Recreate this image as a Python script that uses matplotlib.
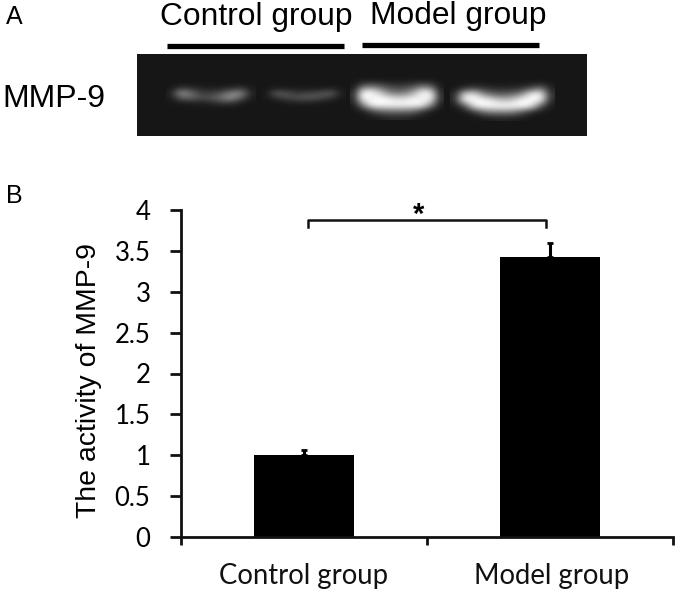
"""Gel image (A) and MMP-9 activity bar chart (B)."""
import numpy as np
import matplotlib
matplotlib.use("Agg")
import matplotlib.pyplot as plt

W, H = 680, 590

groups = ["Control group", "Model group"]
activity = [1.0, 3.42]
errors = [0.06, 0.18]
y_ticks = [0, 0.5, 1, 1.5, 2, 2.5, 3, 3.5, 4]
y_labels = ["0", "0.5", "1", "1.5", "2", "2.5", "3", "3.5", "4"]

# gel band brightness, read by eye, rows top to bottom
band_control_1 = [
    [22, 22, 22, 22, 22, 22, 22, 22, 22],
    [24, 60, 50, 36, 32, 34, 44, 60, 26],
    [28, 150, 110, 62, 62, 80, 130, 140, 30],
    [26, 90, 100, 74, 84, 110, 150, 90, 26],
    [22, 30, 34, 34, 40, 60, 60, 30, 22],
    [22, 22, 22, 22, 22, 22, 22, 22, 22],
]
band_control_2 = [
    [22, 22, 22, 22, 22, 22, 22, 22, 22],
    [22, 36, 34, 30, 28, 30, 32, 40, 24],
    [24, 90, 80, 60, 64, 70, 84, 90, 26],
    [24, 50, 70, 76, 84, 84, 70, 50, 24],
    [22, 24, 30, 36, 40, 36, 28, 24, 22],
    [22, 22, 22, 22, 22, 22, 22, 22, 22],
]
band_model_1 = [
    [22, 22, 22, 22, 22, 22, 22, 22, 22, 22, 22],
    [24, 90, 110, 90, 70, 60, 64, 80, 110, 90, 24],
    [40, 250, 255, 200, 130, 110, 120, 170, 255, 230, 36],
    [40, 255, 240, 255, 240, 220, 225, 245, 235, 255, 40],
    [28, 130, 255, 255, 255, 255, 255, 255, 255, 140, 26],
    [22, 30, 70, 110, 120, 120, 120, 110, 60, 28, 22],
    [22, 22, 24, 30, 36, 38, 36, 28, 24, 22, 22],
]
band_model_2 = [
    [22, 22, 22, 22, 22, 22, 22, 22, 22, 22, 22],
    [22, 40, 60, 46, 40, 38, 40, 44, 70, 110, 30],
    [34, 210, 230, 140, 100, 90, 100, 140, 240, 255, 44],
    [36, 250, 255, 255, 220, 190, 200, 250, 255, 250, 36],
    [24, 70, 230, 255, 255, 255, 255, 255, 240, 90, 24],
    [22, 24, 50, 110, 130, 130, 130, 90, 40, 24, 22],
    [22, 22, 22, 24, 30, 34, 30, 24, 22, 22, 22],
]
bands = [band_control_1, band_control_2, band_model_1, band_model_2]
band_boxes = [(166, 256, 81, 110), (262, 346, 82, 109), (350, 444, 77, 120), (450, 555, 79, 121)]

plt.rcParams["font.family"] = ["Liberation Sans", "DejaVu Sans"]
fig = plt.figure(figsize=(W / 100, H / 100), dpi=100)
fig.patch.set_facecolor("white")

# panel B: axes box in pixels, x 181-673, y 210-537
ax = fig.add_axes([181 / W, 1 - 537 / H, (673 - 181) / W, (537 - 210) / H])
ax.bar(range(2), activity, width=0.407, color="black")
ax.errorbar(range(2), activity, yerr=[[0, 0], errors], fmt="none", ecolor="black",
            elinewidth=2.2, capsize=2, capthick=2)
ax.set_xlim(-0.5, 1.5)
ax.set_ylim(0, 4)
ax.set_yticks(y_ticks, y_labels, fontfamily="Lato", fontsize=18.5)
ax.set_xticks([-0.5, 0.5, 1.5], ["", "", ""])
ax.tick_params(axis="y", width=2, length=8, pad=14, color="#111111")
ax.tick_params(axis="x", width=2, length=6, color="#111111")
ax.set_ylabel("The activity of MMP-9", fontsize=20.4, labelpad=9, y=0.48)
ax.spines[["top", "right"]].set_visible(False)
ax.spines[["left", "bottom"]].set_linewidth(2)
ax.spines[["left", "bottom"]].set_color("#111111")
for i, g in enumerate(groups):
    ax.annotate(g, (i, 0), xytext=(1.5 * i, -19), xycoords=("data", "axes fraction"),
                textcoords="offset points", ha="center", va="top",
                fontfamily="Lato", fontsize=19.8, color="#111111")

# overlay in image pixels for panel A, letters and the bracket
ov = fig.add_axes([0, 0, 1, 1], zorder=5)
ov.set_axis_off()
ov.patch.set_alpha(0)
ov.imshow([[22]], extent=(137, 587, 136, 54), cmap="gray", vmin=0, vmax=255, aspect="auto")
for band, (x0, x1, y0, y1) in zip(bands, band_boxes):
    ov.imshow(np.array(band), extent=(x0, x1, y1, y0), cmap="gray", vmin=0, vmax=255,
              aspect="auto", interpolation="bicubic")
ov.set_xlim(0, W)
ov.set_ylim(H, 0)

ov.text(6, 17, "A", fontsize=18, va="center")
ov.text(6, 196, "B", fontsize=18, va="center")
ov.text(2, 99, "MMP-9", fontsize=23, va="center")
ov.text(256, 17, "Control group", fontsize=22.9, ha="center", va="center")
ov.text(458, 16, "Model group", fontsize=22.9, ha="center", va="center")
ov.plot([167, 344], [45.5, 45.5], color="black", lw=3.8, solid_capstyle="butt")
ov.plot([362, 539], [44.5, 44.5], color="black", lw=3.8, solid_capstyle="butt")

# significance bracket
ov.plot([308, 308, 546, 546], [227, 220, 220, 227], color="#111111", lw=1.8)
ov.text(419, 215, "*", fontsize=21, fontweight="bold", ha="center", va="center")

fig.savefig("out.png", dpi=100)
